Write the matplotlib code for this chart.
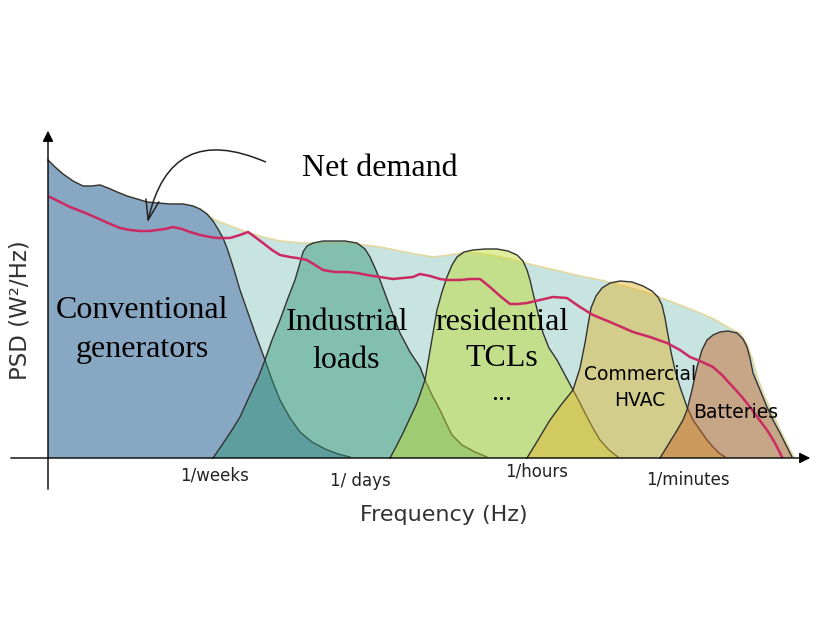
import matplotlib.pyplot as plt
import numpy as np

# schematic PSD bands, x = position along the frequency axis, y = PSD height
gen_x = [48, 48, 55, 63, 73, 83, 92, 100, 108, 117, 127, 137, 147, 157, 170, 183, 193, 200, 207, 213,
         218, 223, 227, 231, 235, 240, 247, 255, 265, 272, 280, 290, 300, 312, 325, 338, 350, 350]
gen_y = [0, 298, 291, 284, 277, 272, 272, 273, 270, 266, 262, 259, 256, 255, 254, 254, 252, 249, 244, 237,
         229, 220, 210, 198, 185, 168, 148, 125, 98, 78, 58, 40, 26, 16, 9, 4, 1, 0]

env_x = [48, 48, 55, 63, 73, 83, 92, 100, 108, 117, 127, 137, 147, 157, 170, 183, 193, 200, 207, 213,
         220, 233, 247, 263, 280, 303, 330, 347, 365, 380, 400, 415, 433, 450, 467, 490, 510, 533, 555, 580,
         600, 620, 645, 667, 690, 712, 733, 740, 747, 752, 757, 764, 771, 778, 785, 794, 794]
env_y = [0, 298, 291, 284, 277, 272, 272, 273, 270, 266, 262, 259, 256, 255, 254, 254, 252, 249, 244, 239,
         236, 231, 226, 221, 217, 215, 215, 215, 213, 211, 207, 204, 201, 203, 206, 203, 199, 193, 188, 182,
         178, 173, 166, 158, 149, 140, 128, 125, 114, 100, 82, 63, 48, 33, 18, 1, 0]

ind_x = [213, 222, 232, 240, 250, 258, 265, 272, 280, 288, 295, 300, 303, 307, 313, 323, 333, 345, 357, 365,
         370, 375, 380, 390, 400, 410, 420, 425, 432, 440, 447, 452, 462, 475, 487, 487]
ind_y = [0, 13, 28, 41, 63, 80, 98, 118, 138, 160, 178, 195, 206, 212, 215, 217, 217, 217, 215, 209,
         201, 190, 178, 151, 125, 106, 91, 78, 63, 48, 33, 23, 13, 6, 1, 0]

res_x = [390, 397, 403, 410, 417, 425, 431, 437, 442, 447, 452, 457, 464, 473, 485, 497, 508, 517, 523, 527,
         530, 533, 538, 543, 549, 557, 565, 573, 580, 587, 594, 600, 609, 618, 618]
res_y = [0, 13, 25, 40, 55, 78, 113, 148, 166, 181, 193, 201, 206, 208, 209, 209, 207, 203, 197, 188,
         178, 165, 145, 125, 110, 98, 83, 68, 55, 41, 28, 18, 8, 1, 0]

hvac_x = [527, 538, 550, 561, 573, 580, 585, 588, 591, 596, 602, 610, 620, 632, 643, 652, 658, 662, 665, 668,
          671, 675, 680, 687, 693, 700, 707, 713, 719, 725, 725]
hvac_y = [0, 18, 38, 53, 68, 90, 115, 133, 150, 162, 170, 175, 177, 176, 172, 167, 161, 153, 140, 123,
          106, 88, 71, 51, 38, 28, 18, 11, 5, 1, 0]

bat_x = [660, 668, 676, 683, 687, 692, 697, 702, 707, 713, 720, 728, 737, 743, 747, 750, 753, 760, 767, 773,
         780, 786, 792, 792]
bat_y = [0, 13, 26, 38, 48, 68, 91, 108, 118, 123, 126, 127, 125, 119, 111, 100, 85, 68, 51, 38,
         25, 13, 1, 0]

net_x = [50, 60, 70, 83, 97, 108, 120, 130, 140, 150, 157, 165, 173, 182, 190, 200, 210, 217, 230, 240,
         248, 255, 263, 272, 280, 290, 297, 307, 315, 323, 335, 347, 357, 367, 380, 393, 403, 413, 420, 430,
         440, 447, 460, 470, 480, 490, 500, 510, 518, 527, 540, 553, 567, 580, 593, 610, 633, 650, 667, 680,
         690, 700, 713, 722, 733, 742, 750, 758, 767, 775, 782]
net_y = [261, 256, 251, 246, 240, 235, 230, 228, 227, 227, 228, 229, 231, 229, 226, 223, 221, 220, 220, 223,
         226, 221, 215, 208, 203, 201, 200, 198, 193, 188, 186, 186, 185, 183, 181, 179, 180, 181, 184, 182,
         179, 178, 178, 179, 179, 171, 162, 154, 154, 155, 158, 161, 160, 151, 143, 136, 126, 121, 115, 108,
         101, 97, 91, 83, 71, 61, 51, 40, 28, 15, 1]

tick_labels = ["1/weeks", "1/ days", "1/hours", "1/minutes"]
tick_x = [215, 360, 537, 688]
tick_y = [-18, -23, -13, -21]

fig = plt.figure(figsize=(8.3, 6.42), dpi=100)
ax = fig.add_axes([0, 0, 1, 1])
ax.set_xlim(0, 830)
ax.set_ylim(-184, 458)
ax.axis('off')

edge = '#333333'

# envelope of the total flexibility
ax.fill(env_x, env_y, facecolor='#c8e4e0', edgecolor='none', zorder=1)
ax.plot(env_x[1:-1], env_y[1:-1], color='#e3d9a0', lw=1.2, zorder=1.5)

bands = [
    (gen_x, gen_y, (0.53, 0.655, 0.765, 1.0)),
    (ind_x, ind_y, (0.19, 0.58, 0.46, 0.45)),
    (res_x, res_y, (0.75, 0.86, 0.18, 0.47)),
    (hvac_x, hvac_y, (0.88, 0.71, 0.19, 0.48)),
    (bat_x, bat_y, (0.78, 0.41, 0.19, 0.50)),
]
z = 2
for bx, by, col in bands:
    ax.fill(bx, by, facecolor=col, edgecolor='none', zorder=z)
    if bx is gen_x:
        ax.plot(bx[1:-1], by[1:-1], color=edge, lw=1.0, zorder=z + 0.5)
    else:
        ax.plot(bx[:-1], by[:-1], color=edge, lw=1.0, zorder=z + 0.5)
    z += 1

ax.plot(net_x, net_y, color='#cc2a62', lw=1.8, zorder=10, solid_joinstyle='round')

# axes with arrows
ax.annotate('', xy=(48, 330), xytext=(48, -34),
            arrowprops=dict(arrowstyle='-|>', color='black', lw=1.0, mutation_scale=16), zorder=11)
ax.annotate('', xy=(813, 0), xytext=(8, 0),
            arrowprops=dict(arrowstyle='-|>', color='black', lw=1.0, mutation_scale=16), zorder=11)

# net demand pointer
ax.annotate('', xy=(147, 233), xytext=(268, 295),
            arrowprops=dict(arrowstyle='->,head_length=0.6,head_width=0.2', color='#222222', lw=1.1,
                            mutation_scale=24, connectionstyle='arc3,rad=0.62'), zorder=11)

serif = 'Liberation Serif'
ax.text(380, 290, 'Net demand', family=serif, fontsize=23, ha='center', va='center', zorder=12)
ax.text(142, 148, 'Conventional', family=serif, fontsize=23, ha='center', va='center', zorder=12)
ax.text(142, 108, 'generators', family=serif, fontsize=23, ha='center', va='center', zorder=12)
ax.text(347, 136, 'Industrial', family=serif, fontsize=23, ha='center', va='center', zorder=12)
ax.text(346, 98, 'loads', family=serif, fontsize=23, ha='center', va='center', zorder=12)
ax.text(502, 136, 'residential', family=serif, fontsize=23, ha='center', va='center', zorder=12)
ax.text(502, 100, 'TCLs', family=serif, fontsize=23, ha='center', va='center', zorder=12)
ax.text(502, 64, '...', family=serif, fontsize=20, ha='center', va='center', zorder=12)

ax.text(640, 83, 'Commercial', fontsize=13.5, ha='center', va='center', zorder=12)
ax.text(640, 58, 'HVAC', fontsize=13.5, ha='center', va='center', zorder=12)
ax.text(736, 46, 'Batteries', fontsize=13.5, ha='center', va='center', zorder=12)

for lab, tx, ty in zip(tick_labels, tick_x, tick_y):
    ax.text(tx, ty, lab, fontsize=12, ha='center', va='center', color='#222222', zorder=12)

ax.text(444, -57, 'Frequency (Hz)', fontsize=16, ha='center', va='center', color='#333333')
ax.text(20, 148, 'PSD (W²/Hz)', fontsize=16.5, ha='center', va='center', rotation=90, color='#333333')

fig.savefig('out.png', dpi=100)
